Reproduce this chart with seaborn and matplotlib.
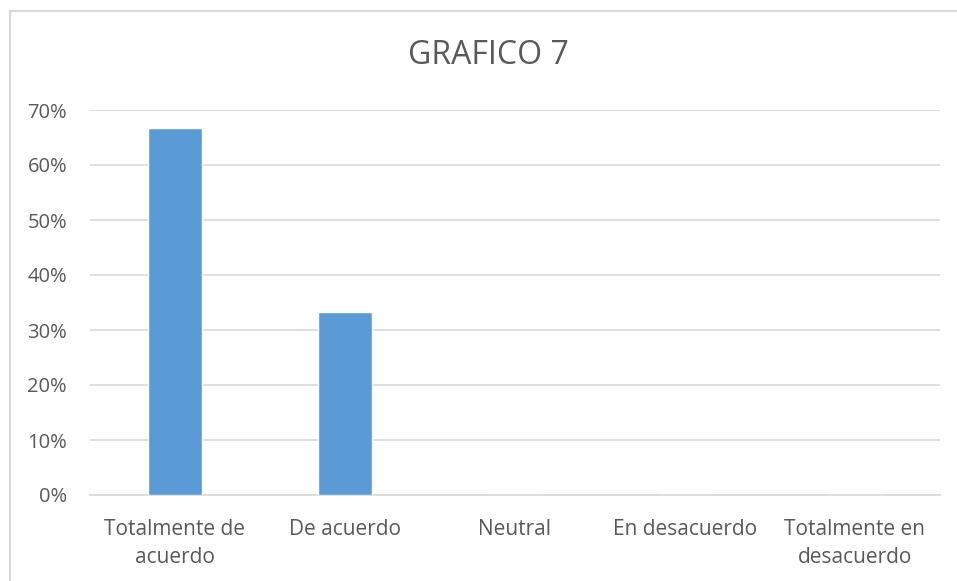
import matplotlib
matplotlib.use("Agg")
import matplotlib.pyplot as plt
import seaborn as sns
import pandas as pd
from matplotlib.patches import Rectangle
from matplotlib.ticker import PercentFormatter

categories = ["Totalmente de\nacuerdo", "De acuerdo", "Neutral", "En desacuerdo", "Totalmente en\ndesacuerdo"]
values = [0.6667, 0.3333, 0.0, 0.0, 0.0]
y_ticks = [0, 0.1, 0.2, 0.3, 0.4, 0.5, 0.6, 0.7]
title = "GRAFICO 7"

sns.set_theme(style="white")
plt.rcParams['font.family'] = ['Open Sans', 'DejaVu Sans']

W, H = 957, 581
fig = plt.figure(figsize=(W / 100, H / 100), dpi=100)
fig.patch.set_facecolor("white")

# figure border (chart area frame)
fig.patches.append(Rectangle((9.5 / W, -0.1), 2.0, 1.1 - 10.5 / H,
                             transform=fig.transFigure, fill=False,
                             edgecolor="#D9D9D9", linewidth=1.5, zorder=0))

left, right = 90 / W, 940 / W
bottom, top = 1 - 495 / H, 1 - 110 / H
ax = fig.add_axes([left, bottom, right - left, top - bottom])

df = pd.DataFrame({"cat": categories, "val": values})
sns.barplot(data=df, x="cat", y="val", color="#5B9BD5", saturation=1,
            width=0.318, ax=ax, zorder=3)

ax.set_ylim(0, 0.7)
ax.set_xlim(-0.5, len(categories) - 0.5)
ax.set_yticks(y_ticks)
ax.yaxis.set_major_formatter(PercentFormatter(1.0, decimals=0))
ax.grid(axis="y", color="#D9D9D9", linewidth=1.2, zorder=0)
ax.set_axisbelow(True)
for s in ["top", "right", "left"]:
    ax.spines[s].set_visible(False)
ax.spines["bottom"].set_color("#D9D9D9")
ax.spines["bottom"].set_linewidth(1.2)
ax.set_xlabel("")
ax.set_ylabel("")
ax.tick_params(axis="y", length=0, pad=16.5, labelsize=14.5, labelcolor="#595959")
ax.tick_params(axis="x", length=0, pad=17, labelsize=15, labelcolor="#595959")
for lab in ax.get_xticklabels():
    lab.set_linespacing(1.45)
    lab.set_horizontalalignment("center")

fig.text(488 / W, 1 - 56 / H, title, ha="center", va="center",
         fontsize=23, color="#595959")

fig.savefig("out.png", dpi=100, facecolor="white")
